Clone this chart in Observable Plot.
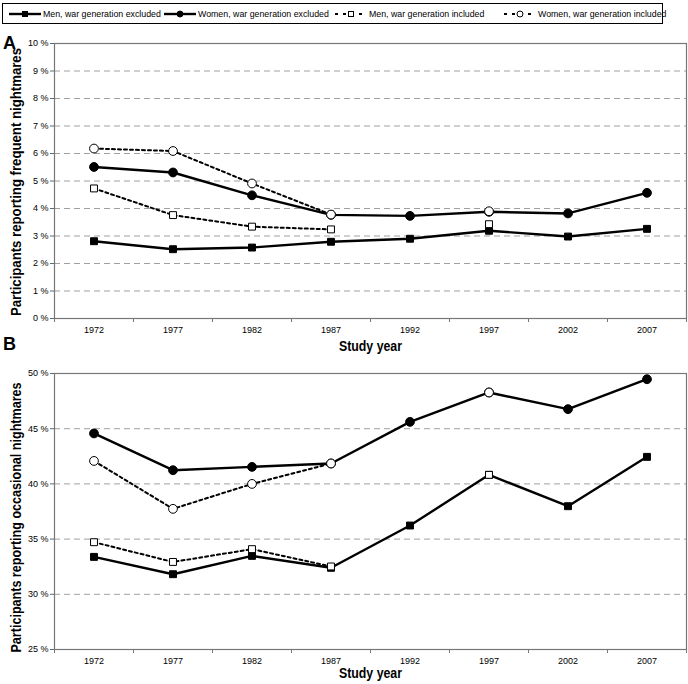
<!DOCTYPE html>
<html><head><meta charset="utf-8">
<script src="https://cdn.jsdelivr.net/npm/d3@7"></script>
<script src="https://cdn.jsdelivr.net/npm/@observablehq/plot@0.6"></script>
<style>
body{margin:0;background:#fff;width:688px;height:684px;position:relative;overflow:hidden;font-family:"Liberation Sans",Arial,sans-serif;}
#legend{position:absolute;left:2px;top:3px;width:661px;height:21px;border:1px solid #000;box-sizing:border-box;z-index:2;}
.item{position:absolute;top:0;height:19px;display:flex;align-items:center;font-size:8.8px;white-space:nowrap;color:#000;}
.item svg{margin-right:1px;}
.panel-letter{position:absolute;left:3px;font:bold 18px "Liberation Sans",Arial,sans-serif;z-index:3;line-height:18px;}
#chartA{position:absolute;left:0;top:28px;z-index:1;}
#chartB{position:absolute;left:0;top:358px;z-index:1;}
</style></head>
<body>
<div id="chartA"></div>
<div id="chartB"></div>
<div id="legend"></div>
<div class="panel-letter" style="top:34px">A</div>
<div class="panel-letter" style="top:335px">B</div>
<script>
// ---- data ----
const years = [1972, 1977, 1982, 1987, 1992, 1997, 2002, 2007];
const seriesNames = ["Men, war generation excluded", "Women, war generation excluded", "Men, war generation included", "Women, war generation included"];

// Panel A: frequent nightmares (%)
const menExclA   = [2.81, 2.52, 2.58, 2.79, 2.90, 3.19, 2.98, 3.26];
const womenExclA = [5.51, 5.31, 4.48, 3.77, 3.73, 3.88, 3.82, 4.57];
const menInclA   = [4.73, 3.76, 3.34, 3.24, null, 3.43, null, null];
const womenInclA = [6.18, 6.09, 4.91, 3.78, null, 3.90, null, null];

// Panel B: occasional nightmares (%)
const menExclB   = [33.39, 31.82, 33.48, 32.40, 36.23, 40.82, 37.98, 42.45];
const womenExclB = [44.57, 41.24, 41.54, 41.85, 45.62, 48.28, 46.77, 49.48];
const menInclB   = [34.72, 32.93, 34.09, 32.52, null, 40.82, null, null];
const womenInclB = [42.08, 37.74, 40.00, 41.85, null, 48.28, null, null];

const yTicksA = [0, 1, 2, 3, 4, 5, 6, 7, 8, 9, 10];
const yTicksB = [25, 30, 35, 40, 45, 50];

// ---- styles ----
const styles = [
  {symbol: "square", fill: "black", dash: null},
  {symbol: "circle", fill: "black", dash: null},
  {symbol: "square", fill: "white", dash: "3,3"},
  {symbol: "circle", fill: "white", dash: "3,3"}
];

// ---- legend ----
const legendLefts = [5, 160, 331, 500];
const legend = d3.select("#legend");
seriesNames.forEach((name, i) => {
  const st = styles[i];
  const it = legend.append("div").attr("class", "item").style("left", legendLefts[i] + "px");
  const svg = it.append("svg").attr("width", 34).attr("height", 12);
  svg.append("line").attr("x1", 1).attr("x2", 33).attr("y1", 6).attr("y2", 6)
    .attr("stroke", "black").attr("stroke-width", st.dash ? 2 : 2.4)
    .attr("stroke-dasharray", st.dash ? "3,5" : null);
  if (st.symbol === "square") {
    svg.append("rect").attr("x", 14.5).attr("y", 3.5).attr("width", 5).attr("height", 5)
      .attr("fill", st.fill).attr("stroke", "black").attr("stroke-width", 1);
  } else {
    svg.append("circle").attr("cx", 17).attr("cy", 6).attr("r", 3)
      .attr("fill", st.fill).attr("stroke", "black").attr("stroke-width", 1);
  }
  it.append("span").text(name);
});

// ---- panels ----
const boundaries = [1969.5, 1974.5, 1979.5, 1984.5, 1989.5, 1994.5, 1999.5, 2004.5, 2009.5];

function condense(svg, label, len) {
  d3.select(svg).selectAll("text").filter(function() { return this.textContent === label; })
    .each(function() {
      const t = d3.select(this);
      const x0 = +(t.attr("x") || 0);
      t.attr("text-anchor", "start").attr("x", x0 - len / 2)
        .attr("textLength", len).attr("lengthAdjust", "spacingAndGlyphs");
    });
}

function panel(vals, yDomain, yTicks, title, titleLen, titleDyY, height, marginBottom, titleDy) {
  const marks = [
    Plot.gridY(yTicks, {stroke: "#a0a0a0", strokeOpacity: 1, strokeDasharray: "6,4", strokeWidth: 1}),
    Plot.axisY({ticks: yTicks, tickFormat: d => d + " %", tickSize: 4, tickPadding: 2, fontSize: 9, label: null, stroke: "#666"}),
    Plot.axisX({ticks: years, tickSize: 0, tickPadding: 8, tickFormat: d => String(d), fontSize: 9, label: null}),
    Plot.axisX({ticks: boundaries, tickSize: 4, tickFormat: () => "", label: null, stroke: "#777"}),
    Plot.frame({stroke: "#777", strokeWidth: 1.2}),
    Plot.text([title], {frameAnchor: "left", dx: -38, dy: titleDyY, rotate: -90, fontWeight: "bold", fontSize: 15, fill: "black"}),
    Plot.text(["Study year"], {frameAnchor: "bottom", dy: titleDy, fontWeight: "bold", fontSize: 14, fill: "black"})
  ];
  vals.forEach((arr, i) => {
    const st = styles[i];
    const rows = years.map((yr, j) => ({year: yr, value: arr[j]}));
    marks.push(Plot.line(rows, {x: "year", y: "value", stroke: "black", strokeWidth: st.dash ? 2 : 2.4, strokeDasharray: st.dash}));
    marks.push(Plot.dot(rows.filter(d => d.value != null), {x: "year", y: "value", symbol: st.symbol, r: st.symbol === "square" ? 3.9 : 4.4, fill: st.fill, stroke: "black", strokeWidth: 1}));
  });
  const svg = Plot.plot({
    width: 688, height, marginLeft: 54, marginRight: 2, marginTop: 15, marginBottom,
    x: {domain: [1969.5, 2009.5]},
    y: {domain: yDomain},
    style: {fontFamily: '"Liberation Sans",Arial,sans-serif', fontSize: "9px", color: "black", background: "white", overflow: "visible"},
    marks
  });
  // condense the bold titles to match the narrow typeface of the original
  condense(svg, title, titleLen);
  condense(svg, "Study year", 63);
  return svg;
}

document.getElementById("chartA").append(
  panel([menExclA, womenExclA, menInclA, womenInclA], [0, 10], yTicksA, "Participants reporting frequent nightmares", 268, 1, 330, 40, 32));
document.getElementById("chartB").append(
  panel([menExclB, womenExclB, menInclB, womenInclB], [25, 50], yTicksB, "Participants reporting occasional nightmares", 270, 6, 326, 35, 28));
</script>
</body></html>
